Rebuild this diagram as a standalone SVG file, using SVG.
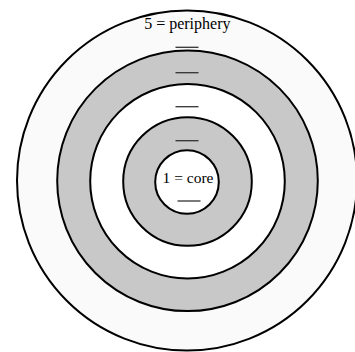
<svg xmlns="http://www.w3.org/2000/svg" width="355" height="352" viewBox="0 0 355 352">
<style>
.ring{stroke:#000;stroke-width:2}
.dash{stroke:#333;stroke-width:1.3}
.lbl{font-family:"Liberation Serif","Times New Roman",serif;fill:#000;text-anchor:middle}
</style>
<rect width="355" height="352" fill="#fff"/>
<g id="ring5"><circle class="ring" cx="187" cy="180.5" r="170" fill="#fafafa"/></g>
<g id="ring4"><circle class="ring" cx="187.5" cy="180.8" r="130.3" fill="#c8c8c8"/></g>
<g id="ring3"><circle class="ring" cx="187.5" cy="181.2" r="97.3" fill="#fff"/></g>
<g id="ring2"><circle class="ring" cx="187.5" cy="181.5" r="64.3" fill="#c8c8c8"/></g>
<g id="ring1"><circle class="ring" cx="187" cy="182" r="31.8" fill="#fff"/></g>
<g id="labels">
<text class="lbl" x="187.3" y="29.3" font-size="16">5 = periphery</text>
<text class="lbl" x="188" y="183.3" font-size="15.5">1 = core</text>
</g>
<g id="connectors">
<line class="dash" x1="175.5" y1="47.3" x2="198.5" y2="47.3"/>
<line class="dash" x1="175.5" y1="72.7" x2="198.5" y2="72.7"/>
<line class="dash" x1="175.5" y1="106.7" x2="198.5" y2="106.7"/>
<line class="dash" x1="175.5" y1="140.7" x2="198.5" y2="140.7"/>
<line class="dash" x1="177.5" y1="201" x2="200.5" y2="201"/>
</g>
</svg>
